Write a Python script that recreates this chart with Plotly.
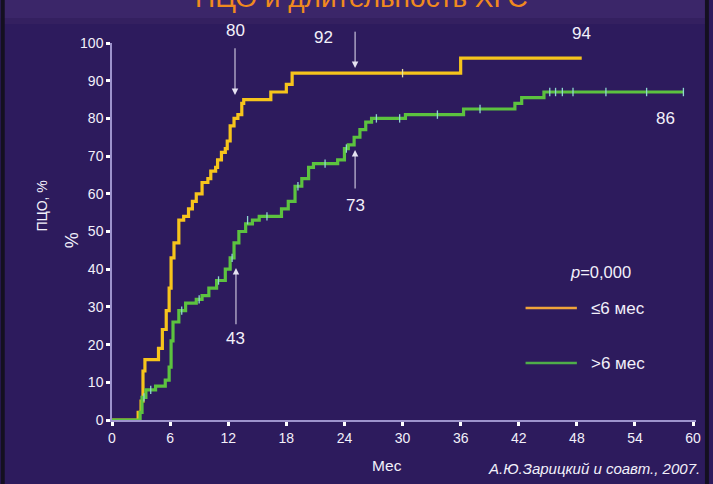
import plotly.graph_objects as go

# ---- data ----
months_short = [0, 2.7, 3.0, 3.2, 3.4, 4.8, 5.2, 5.6, 5.9, 6.1, 6.4, 6.9, 7.4, 7.9, 8.3, 8.7, 9.3, 9.9,
                10.2, 10.7, 10.9, 11.3, 11.7, 11.9, 12.2, 12.6, 13.0, 13.4, 13.6, 16.4, 18.0, 18.6, 36.0, 48.5]
pct_short = [0, 2, 5, 13, 16, 19, 24, 29, 35, 43, 47, 53, 54, 56, 58, 60, 63, 64,
             66, 67, 69, 71, 72, 74, 78, 80, 81, 84, 85, 87, 89, 92, 96, 96]

months_long = [0, 2.9, 3.1, 3.5, 4.5, 5.5, 5.9, 6.1, 6.3, 6.9, 7.6, 8.7, 9.3, 10.0, 10.8, 11.7, 12.2, 12.6,
               13.1, 13.8, 14.5, 15.2, 17.5, 18.2, 18.9, 19.6, 20.3, 20.8, 23.3, 24.0, 24.4, 25.0, 25.6,
               26.2, 26.8, 30.3, 36.3, 41.6, 42.3, 44.6, 59.0]
pct_long = [0, 2, 6, 8, 9, 10.6, 14, 21, 26, 29, 31, 32, 33, 35, 37, 40, 43, 47,
            50, 52, 53, 54, 56, 58, 62, 64, 67, 68, 69, 72, 73, 75, 77,
            79, 80, 81, 82.5, 84, 85.5, 87, 87]

cens_long_t = [3.3, 4.0, 7.2, 9.0, 11.0, 12.4, 14.0, 16.0, 19.2, 22.0, 24.2, 27.3, 29.7, 33.6, 38.0,
               45.2, 45.8, 46.5, 47.6, 51.0, 55.2, 59.0]
cens_long_p = [6, 8, 29, 32, 37, 43, 53, 54, 62, 68, 72, 80, 80, 81, 82.5,
               87, 87, 87, 87, 87, 87, 87]
cens_short_t = [30.0]
cens_short_p = [92]

x_ticks = [0, 6, 12, 18, 24, 30, 36, 42, 48, 54, 60]
y_ticks = [0, 10, 20, 30, 40, 50, 60, 70, 80, 90, 100]

series_names = ["≤6 мес", ">6 мес"]
callouts = [  # (text, x month, text y %)
    ("80", 12.7, 103.4),
    ("92", 21.8, 101.4),
    ("94", 48.5, 102.6),
    ("86", 57.2, 80.0),
    ("73", 25.1, 57.0),
    ("43", 12.8, 21.5),
]
arrows = [  # (x month, tail %, head %)
    (12.7, 99.0, 86.2),
    (25.1, 103.4, 93.4),
    (25.1, 61.0, 71.6),
    (12.8, 25.0, 40.3),
]

# ---- style ----
BG = "#2d1b5d"
YEL = "#f6c41c"
GRN = "#5cc23f"
TXT = "#f2f0fa"
FONT = "Liberation Sans"

W, H, L, T = 588, 377, 112, 43
def px(x):
    return (x - L) / W
def py(y):
    return (T + H - y) / H

fig = go.Figure()
fig.add_trace(go.Scatter(x=months_short, y=pct_short, mode="lines", line_shape="hv",
                         line=dict(color=YEL, width=3.2), name=series_names[0], showlegend=False))
fig.add_trace(go.Scatter(x=months_long, y=pct_long, mode="lines", line_shape="hv",
                         line=dict(color=GRN, width=3.2), name=series_names[1], showlegend=False))
fig.add_trace(go.Scatter(x=cens_long_t, y=cens_long_p, mode="markers",
                         marker=dict(symbol="line-ns", size=6, line=dict(color="#8fd6d0", width=1.3)),
                         showlegend=False, hoverinfo="skip"))
fig.add_trace(go.Scatter(x=cens_short_t, y=cens_short_p, mode="markers",
                         marker=dict(symbol="line-ns", size=6, line=dict(color="#e8e0a0", width=1.3)),
                         showlegend=False, hoverinfo="skip"))

ann = []
for t, x, y in callouts:
    # y given in % units; convert to paper so labels above the axis range stay visible
    ann.append(dict(x=x, y=y / 100.0, xref="x", yref="paper", text=t, showarrow=False,
                    xanchor="center", yanchor="middle",
                    font=dict(family=FONT, size=17, color=TXT)))
for x, y0, y1 in arrows:
    ann.append(dict(x=x, y=y1, ax=x, ay=y0, xref="x", yref="y", axref="x", ayref="y",
                    text="", showarrow=True, arrowhead=2, arrowsize=1.3, arrowwidth=1,
                    arrowcolor="#e6e2f2"))

# legend-like block
ann.append(dict(x=50.4, y=0.393, xref="x", yref="paper", text="<i>p</i>=0,000", showarrow=False,
                xanchor="center", yanchor="middle", font=dict(family=FONT, size=16.5, color=TXT)))
ann.append(dict(x=49.2, y=0.297, xref="x", yref="paper", text=series_names[0], showarrow=False,
                xanchor="left", yanchor="middle", font=dict(family=FONT, size=17, color=TXT)))
ann.append(dict(x=49.2, y=0.151, xref="x", yref="paper", text=series_names[1], showarrow=False,
                xanchor="left", yanchor="middle", font=dict(family=FONT, size=17, color=TXT)))
shapes = [
    dict(type="line", xref="x", yref="y", x0=42.7, x1=48.0, y0=29.7, y1=29.7,
         line=dict(color="#f0a43a", width=2.5)),
    dict(type="line", xref="x", yref="y", x0=42.7, x1=48.0, y0=15.1, y1=15.1,
         line=dict(color="#4fae4a", width=2.5)),
]

# top lighter band and dark side borders
shapes += [
    dict(type="rect", xref="paper", yref="paper", x0=px(0), x1=px(713), y0=py(18), y1=py(0),
         fillcolor="#3b2669", line=dict(width=0), layer="below"),
    dict(type="rect", xref="paper", yref="paper", x0=px(0), x1=px(713), y0=py(24), y1=py(18),
         fillcolor="#342060", line=dict(width=0), layer="below"),
    dict(type="rect", xref="paper", yref="paper", x0=px(0), x1=px(4), y0=py(484), y1=py(0),
         fillcolor="#141020", line=dict(width=0)),
    dict(type="rect", xref="paper", yref="paper", x0=px(709), x1=px(713), y0=py(484), y1=py(0),
         fillcolor="#141020", line=dict(width=0)),
]

# partially visible slide title at very top (cut by the image edge, as in the source)
ann.append(dict(x=px(363), y=py(15), xref="paper", yref="paper", text="ПЦО и длительность ХГС",
                showarrow=False, xanchor="center", yanchor="bottom",
                font=dict(family=FONT, size=28, color="#f08a1e")))

# axis titles and source
ann.append(dict(x=28.4, y=py(465), xref="x", yref="paper", text="Мес", showarrow=False,
                xanchor="center", yanchor="middle", font=dict(family=FONT, size=15.5, color=TXT)))
ann.append(dict(x=px(706), y=py(468), xref="paper", yref="paper", text="<i>А.Ю.Зарицкий и соавт., 2007.</i>",
                showarrow=False, xanchor="right", yanchor="middle", font=dict(family=FONT, size=15, color=TXT)))
ann.append(dict(x=px(42), y=py(206), xref="paper", yref="paper", text="ПЦО, %", textangle=-90,
                showarrow=False, xanchor="center", yanchor="middle", font=dict(family=FONT, size=14, color=TXT)))
ann.append(dict(x=px(72), y=py(240), xref="paper", yref="paper", text="%", textangle=-90,
                showarrow=False, xanchor="center", yanchor="middle", font=dict(family=FONT, size=18, color=TXT)))

axis_common = dict(showgrid=False, zeroline=False, showline=True, linecolor="#9d93cc", linewidth=1.5,
                   ticks="outside", ticklen=4, tickwidth=3, tickcolor="#ffffff",
                   tickfont=dict(family=FONT, size=14, color=TXT))

fig.update_layout(
    width=713, height=484,
    margin=dict(l=L, r=713 - L - W, t=T, b=484 - T - H),
    paper_bgcolor=BG, plot_bgcolor=BG,
    xaxis=dict(range=[0, 60.3], tickvals=x_ticks, **axis_common),
    yaxis=dict(range=[0, 100], tickvals=y_ticks, **axis_common),
    annotations=ann, shapes=shapes,
    showlegend=False,
)

fig.write_html("out.html", config={"displayModeBar": False, "displaylogo": False},
               post_script="document.body.style.margin='0';document.body.style.background='" + BG + "';")
